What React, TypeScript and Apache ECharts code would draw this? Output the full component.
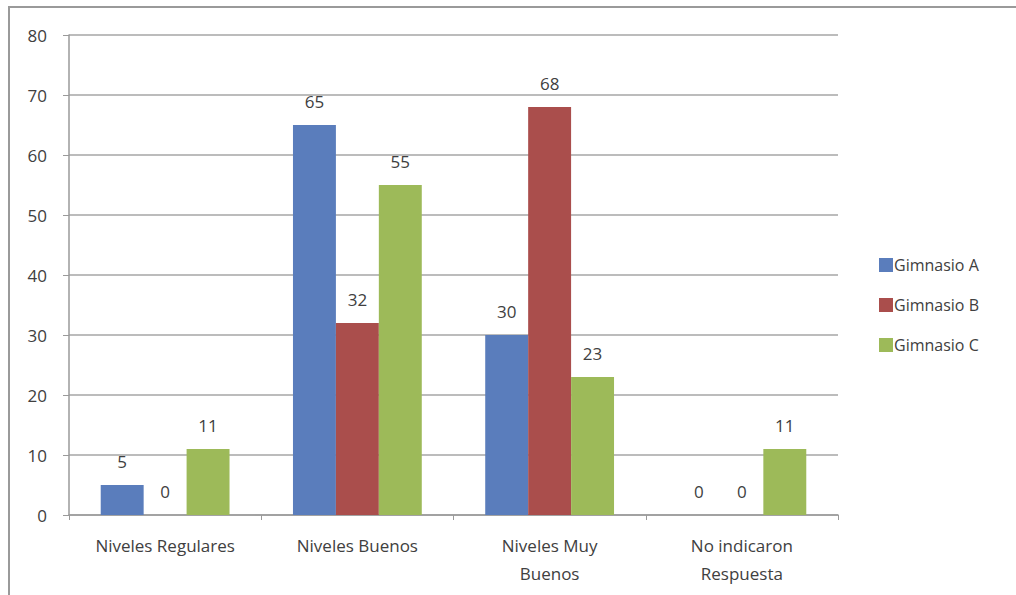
import React, { useEffect, useRef } from "react";
import * as echarts from "echarts";

const categories = ["Niveles Regulares", "Niveles Buenos", "Niveles Muy\nBuenos", "No indicaron\nRespuesta"];
const seriesNames = ["Gimnasio A", "Gimnasio B", "Gimnasio C"];
const gimnasioA = [5, 65, 30, 0];
const gimnasioB = [0, 32, 68, 0];
const gimnasioC = [11, 55, 23, 11];
const colors = ["#5A7DBC", "#AA4E4C", "#9DBA59"];

const FONT = "'Open Sans', Lato, sans-serif";
const TEXT = "#404040";

export default function App() {
  const ref = useRef<HTMLDivElement>(null);

  useEffect(() => {
    if (!ref.current) return;
    const chart = echarts.init(ref.current, null, { renderer: "svg" });
    const values = [gimnasioA, gimnasioB, gimnasioC];
    chart.setOption({
      animation: false,
      backgroundColor: "#ffffff",
      textStyle: { fontFamily: FONT },
      graphic: [
        {
          type: "rect",
          shape: { x: 9, y: 7, width: 1200, height: 800 },
          style: { fill: "none", stroke: "#9a9a9a", lineWidth: 2 },
          silent: true,
        },
      ],
      grid: { left: 69, right: 178, top: 35, bottom: 80 },
      legend: {
        orient: "vertical",
        left: 874,
        top: 252,
        itemWidth: 14,
        itemHeight: 14,
        itemGap: 24,
        icon: "rect",
        data: seriesNames,
        textStyle: { fontFamily: FONT, fontSize: 16, color: TEXT, padding: [0, 0, 0, -4] },
      },
      xAxis: {
        type: "category",
        data: categories,
        axisLine: { lineStyle: { color: "#9a9a9a", width: 1.5 } },
        axisTick: { show: true, length: 5, lineStyle: { color: "#9a9a9a" } },
        axisLabel: {
          fontFamily: FONT,
          fontSize: 17,
          color: TEXT,
          margin: 16,
          lineHeight: 28,
          interval: 0,
        },
      },
      yAxis: {
        type: "value",
        min: 0,
        max: 80,
        interval: 10,
        axisLine: { show: true, lineStyle: { color: "#9a9a9a", width: 1.5 } },
        axisTick: { show: true, length: 6, lineStyle: { color: "#9a9a9a" } },
        splitLine: { lineStyle: { color: "#a6a6a6", width: 1.5 } },
        axisLabel: { fontFamily: FONT, fontSize: 17, color: TEXT, margin: 22 },
      },
      series: seriesNames.map((name, i) => ({
        name,
        type: "bar",
        data: values[i],
        barGap: "0%",
        barCategoryGap: "33%",
        itemStyle: { color: colors[i] },
        label: {
          show: true,
          position: "top",
          distance: 15,
          fontFamily: FONT,
          fontSize: 17,
          color: TEXT,
        },
      })),
    });
    return () => chart.dispose();
  }, []);

  return (
    <div
      ref={ref}
      style={{ position: "fixed", left: 0, top: 0, width: 1016, height: 595 }}
    />
  );
}
